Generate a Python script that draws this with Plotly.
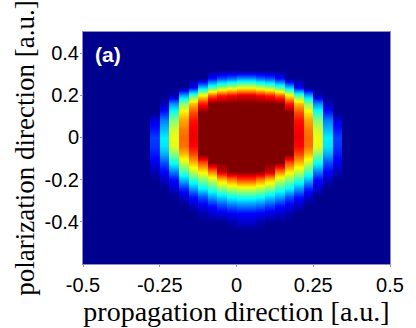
import numpy as np
import plotly.graph_objects as go

# ---- tick labels ----
x_tick_vals = [-0.5, -0.25, 0, 0.25, 0.5]
x_tick_text = ["-0.5", "-0.25", "0", "0.25", "0.5"]
y_tick_vals = [0.4, 0.2, 0, -0.2, -0.4]
y_tick_text = ["0.4", "0.2", "0", "-0.2", "-0.4"]

# ---- data grid ----
column_x = [-0.265625, -0.234375, -0.203125, -0.171875, -0.140625, -0.109375,
            -0.078125, -0.046875, -0.015625, 0.015625, 0.046875, 0.078125,
            0.109375, 0.140625, 0.171875, 0.203125, 0.234375, 0.265625,
            0.296875, 0.328125]
column_width = 0.03125
row_y = [0.36, 0.32, 0.28, 0.24, 0.20, 0.16, 0.12, 0.08, 0.04, 0.00, -0.04,
         -0.08, -0.12, -0.16, -0.20, -0.24, -0.28, -0.32, -0.36, -0.40, -0.44, -0.48]

# normalised intensity (clipped at 1), one list per column, top row first
intensity_columns = [
    [0, 0, 0, 0, 0, 0, 0, 0.08, 0.13, 0.17, 0.16, 0.13, 0.09, 0.04, 0, 0, 0, 0, 0, 0, 0, 0],
    [0, 0, 0, 0, 0, 0.04, 0.14, 0.24, 0.30, 0.35, 0.34, 0.28, 0.19, 0.11, 0.05, 0, 0, 0, 0, 0, 0, 0],
    [0, 0, 0, 0, 0.03, 0.25, 0.40, 0.50, 0.57, 0.60, 0.59, 0.49, 0.38, 0.24, 0.12, 0.06, 0, 0, 0, 0, 0, 0],
    [0, 0, 0, 0, 0.28, 0.50, 0.64, 0.71, 0.75, 0.77, 0.76, 0.68, 0.57, 0.44, 0.30, 0.15, 0.06, 0, 0, 0, 0, 0],
    [0, 0, 0, 0.10, 0.45, 0.68, 0.80, 0.86, 0.88, 0.89, 0.87, 0.80, 0.69, 0.56, 0.42, 0.27, 0.13, 0.05, 0, 0, 0, 0],
    [0, 0, 0, 0.31, 0.63, 0.85, 1, 1, 1, 1, 1, 1, 0.80, 0.64, 0.50, 0.36, 0.20, 0.09, 0.03, 0, 0, 0],
    [0, 0, 0.12, 0.44, 0.78, 1, 1, 1, 1, 1, 1, 1, 1, 0.75, 0.57, 0.42, 0.28, 0.13, 0.06, 0, 0, 0],
    [0, 0, 0.19, 0.52, 0.85, 1, 1, 1, 1, 1, 1, 1, 1, 0.93, 0.68, 0.50, 0.33, 0.18, 0.08, 0, 0, 0],
    [0, 0, 0.22, 0.56, 0.88, 1, 1, 1, 1, 1, 1, 1, 1, 1, 0.75, 0.55, 0.38, 0.22, 0.10, 0.03, 0, 0],
    [0, 0, 0.26, 0.60, 0.91, 1, 1, 1, 1, 1, 1, 1, 1, 1, 0.81, 0.58, 0.40, 0.24, 0.11, 0.06, 0, 0],
    [0, 0, 0.26, 0.60, 0.91, 1, 1, 1, 1, 1, 1, 1, 1, 1, 0.81, 0.58, 0.40, 0.24, 0.11, 0.06, 0, 0],
    [0, 0, 0.22, 0.56, 0.88, 1, 1, 1, 1, 1, 1, 1, 1, 1, 0.75, 0.55, 0.38, 0.22, 0.10, 0.03, 0, 0],
    [0, 0, 0.19, 0.52, 0.85, 1, 1, 1, 1, 1, 1, 1, 1, 0.93, 0.68, 0.50, 0.33, 0.18, 0.08, 0, 0, 0],
    [0, 0, 0.12, 0.44, 0.78, 1, 1, 1, 1, 1, 1, 1, 1, 0.75, 0.57, 0.42, 0.28, 0.13, 0.06, 0, 0, 0],
    [0, 0, 0, 0.31, 0.63, 0.85, 1, 1, 1, 1, 1, 1, 0.80, 0.64, 0.50, 0.36, 0.20, 0.09, 0.03, 0, 0, 0],
    [0, 0, 0, 0.10, 0.45, 0.68, 0.80, 0.86, 0.88, 0.89, 0.87, 0.80, 0.69, 0.56, 0.42, 0.27, 0.13, 0.05, 0, 0, 0, 0],
    [0, 0, 0, 0, 0.28, 0.50, 0.64, 0.71, 0.75, 0.77, 0.76, 0.68, 0.57, 0.44, 0.30, 0.15, 0.06, 0, 0, 0, 0, 0],
    [0, 0, 0, 0, 0.03, 0.25, 0.40, 0.50, 0.57, 0.60, 0.59, 0.49, 0.38, 0.24, 0.12, 0.06, 0, 0, 0, 0, 0, 0],
    [0, 0, 0, 0, 0, 0.04, 0.14, 0.24, 0.30, 0.35, 0.34, 0.28, 0.19, 0.11, 0.05, 0, 0, 0, 0, 0, 0, 0],
    [0, 0, 0, 0, 0, 0, 0, 0.08, 0.13, 0.17, 0.16, 0.13, 0.09, 0.04, 0, 0, 0, 0, 0, 0, 0, 0],
]

# ---- build sample points so columns stay crisp while rows are smoothed ----
eps = 0.0004
n_rows = len(row_y)
zero_col = [0] * n_rows
xs, zcols = [-0.5], [zero_col]
xs.append(column_x[0] - column_width / 2 - eps)
zcols.append(zero_col)
for cx, col in zip(column_x, intensity_columns):
    xs += [cx - column_width / 2 + eps, cx + column_width / 2 - eps]
    zcols += [col, col]
xs.append(column_x[-1] + column_width / 2 + eps)
zcols.append(zero_col)
xs.append(0.5)
zcols.append(zero_col)

Z = np.array(zcols).T[::-1]          # rows ascending in y
ys = list(row_y)[::-1]

jet = [[0.0, "rgb(0,0,143)"], [0.111, "rgb(0,0,255)"], [0.365, "rgb(0,255,255)"],
       [0.619, "rgb(255,255,0)"], [0.873, "rgb(255,0,0)"], [1.0, "rgb(128,0,0)"]]

fig = go.Figure(go.Heatmap(x=xs, y=ys, z=Z, zsmooth="best", colorscale=jet,
                           zmin=0, zmax=1, showscale=False, hoverinfo="skip"))

tick_font = dict(family="Liberation Sans, Arial, sans-serif", size=20, color="black")
frame = "rgb(140,140,200)"

fig.update_layout(
    width=416, height=328,
    margin=dict(l=83, r=19, t=32, b=55),
    paper_bgcolor="white", plot_bgcolor="rgb(0,0,143)",
    xaxis=dict(range=[-0.5, 0.5], tickvals=x_tick_vals, ticktext=x_tick_text,
               tickfont=tick_font, showgrid=False, zeroline=False,
               showline=True, mirror=True, linecolor=frame, linewidth=1,
               ticks="outside", ticklen=2, tickcolor="#999", ticklabelstandoff=1,
               title=dict(text="propagation direction [a.u.]", standoff=0,
                          font=dict(family="Liberation Serif, Times New Roman, serif",
                                    size=28, color="black"))),
    yaxis=dict(range=[-0.6, 0.5], tickvals=y_tick_vals, ticktext=y_tick_text,
               tickfont=tick_font, showgrid=False, zeroline=False,
               showline=True, mirror=True, linecolor=frame, linewidth=1,
               ticks="outside", ticklen=2, tickcolor="#999", ticklabelstandoff=-3,
               title=dict(text="polarization direction [a.u.]", standoff=2,
                          font=dict(family="Liberation Serif, Times New Roman, serif",
                                    size=27, color="black"))),
    annotations=[dict(text="<b>(a)</b>", xref="paper", yref="paper", x=0.083, y=0.905,
                      xanchor="center", yanchor="middle", showarrow=False,
                      font=dict(family="Liberation Sans, Arial, sans-serif", size=21, color="white"))],
)

fig.write_html("out.html")
